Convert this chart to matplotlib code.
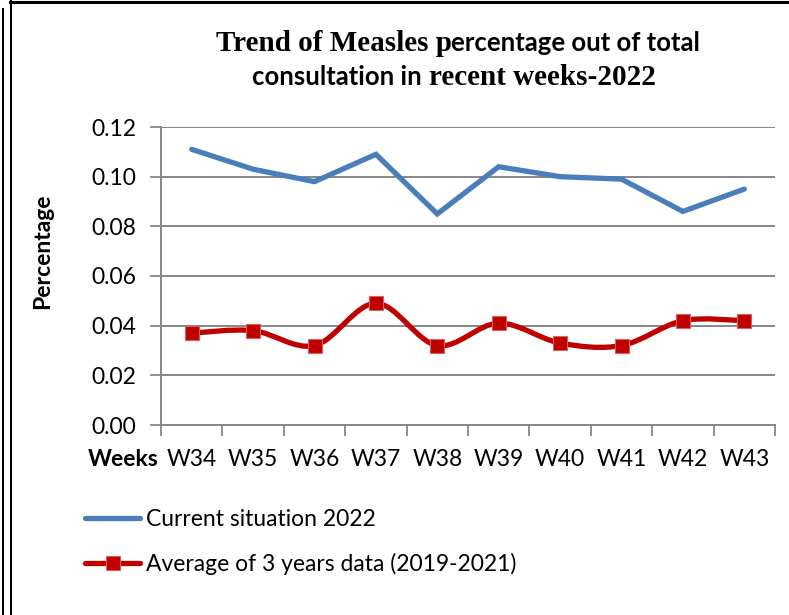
import numpy as np
import matplotlib
matplotlib.use('Agg')
import matplotlib.pyplot as plt
from matplotlib.path import Path
from matplotlib.patches import PathPatch
from matplotlib.lines import Line2D

weeks = ['W34', 'W35', 'W36', 'W37', 'W38', 'W39', 'W40', 'W41', 'W42', 'W43']
current_2022 = [0.111, 0.103, 0.098, 0.109, 0.085, 0.104, 0.100, 0.099, 0.086, 0.095]
avg_2019_2021 = [0.037, 0.038, 0.032, 0.049, 0.032, 0.041, 0.033, 0.032, 0.042, 0.042]
yticks = [0.00, 0.02, 0.04, 0.06, 0.08, 0.10, 0.12]

W, H = 789, 615
BLUE = '#4A7EBB'
RED = '#C00000'
GRID = '#878787'
SANS = 'Lato'
SERIF = 'Liberation Serif'

fig = plt.figure(figsize=(W / 100, H / 100), dpi=100)
ax = fig.add_axes([161 / W, 1 - 425 / H, (775 - 161) / W, (425 - 127) / H])


def fx(px):
    return px / W


def fy(py):
    return 1 - py / H


def smooth_path(xs, ys):
    # Excel-style smoothed line: cubic bezier with 1/6 neighbour tangents
    pts = np.column_stack([xs, ys])
    n = len(pts)
    verts = [pts[0]]
    codes = [Path.MOVETO]
    for i in range(n - 1):
        p0 = pts[i - 1] if i > 0 else pts[i]
        p1, p2 = pts[i], pts[i + 1]
        p3 = pts[i + 2] if i + 2 < n else pts[i + 1]
        verts += [p1 + (p2 - p0) / 6, p2 - (p3 - p1) / 6, p2]
        codes += [Path.CURVE4] * 3
    return Path(verts, codes)


x = np.arange(len(weeks))

ax.plot(x, current_2022, color=BLUE, lw=3.8, solid_capstyle='round',
        solid_joinstyle='miter', zorder=3)
ax.add_patch(PathPatch(smooth_path(x, avg_2019_2021), fill=False,
                       edgecolor=RED, lw=3.8, capstyle='round', zorder=3))
ax.plot(x, avg_2019_2021, ls='none', marker='s', ms=10.5, mfc=RED,
        mec='#D46060', mew=0.8, zorder=4)

ax.set_xlim(-0.5, len(weeks) - 0.5)
ax.set_ylim(0, 0.12)
ax.set_yticks(yticks)
ax.set_yticklabels([f'{v:.2f}' for v in yticks], fontsize=16.5, family=SANS)
ax.set_xticks(x)
ax.set_xticklabels(weeks, fontsize=16.5, family=SANS)
ax.set_xticks(np.arange(-0.5, len(weeks)), minor=True)
ax.tick_params(axis='x', which='major', length=0, pad=17)
ax.tick_params(axis='x', which='minor', length=8, width=1.3, color=GRID)
ax.tick_params(axis='y', length=8, width=1.3, color=GRID, pad=10)
ax.yaxis.grid(True, color=GRID, lw=1.4)
ax.set_axisbelow(True)
for side in ['top', 'right']:
    ax.spines[side].set_visible(False)
for side in ['left', 'bottom']:
    ax.spines[side].set_color(GRID)
    ax.spines[side].set_linewidth(1.4)

fig.text(fx(43), fy(251), 'Percentage', rotation=90, ha='center', va='center',
         fontsize=16.5, fontweight='bold', family=SANS)
fig.text(fx(159), fy(460), 'Weeks', ha='right', va='center',
         fontsize=16.5, fontweight='bold', family=SANS)

# title with mixed fonts, as in the source
renderer = fig.canvas.get_renderer()


def mixed_line(parts, cx, base):
    texts, widths = [], []
    for s, fam, size, gap in parts:
        t = fig.text(0, fy(base), s, family=fam, fontweight='bold',
                     fontsize=size, va='baseline', ha='left')
        texts.append(t)
        widths.append(t.get_window_extent(renderer).width + gap)
    left = cx - sum(widths) / 2
    for t, w in zip(texts, widths):
        t.set_x(fx(left))
        left += w


SERIF_SIZE, SANS_SIZE = 21, 18.5
sp = SANS_SIZE * 0.25 * 100 / 72
mixed_line([('Trend of Measles p', SERIF, SERIF_SIZE, 0),
            ('ercentage out of total', SANS, SANS_SIZE, 0)], 458, 51)
mixed_line([('consultation in', SANS, SANS_SIZE, sp),
            ('recent weeks-2022', SERIF, SERIF_SIZE, 0)], 454, 85)

handles = [
    Line2D([], [], color=BLUE, lw=3.8, solid_capstyle='round'),
    Line2D([], [], color=RED, lw=3.8, marker='s', ms=10.5, mfc=RED,
           mec='#D46060', mew=0.8, solid_capstyle='round'),
]
fig.legend(handles, ['Current situation 2022', 'Average of 3 years data (2019-2021)'],
           loc='center left', bbox_to_anchor=(fx(85), fy(542)), frameon=False,
           borderpad=0, borderaxespad=0, handlelength=2.4, handletextpad=0.25,
           labelspacing=1.0, prop={'family': SANS, 'size': 16.5})

# page border lines
fig.add_artist(Line2D([fx(10), 1], [fy(2), fy(2)], color='black', lw=2.2))
fig.add_artist(Line2D([fx(11), fx(11)], [fy(1), 0], color='black', lw=1.5))
fig.add_artist(Line2D([fx(3), fx(3)], [fy(9), 0], color='black', lw=1.5))

fig.savefig('out.png', dpi=100)
